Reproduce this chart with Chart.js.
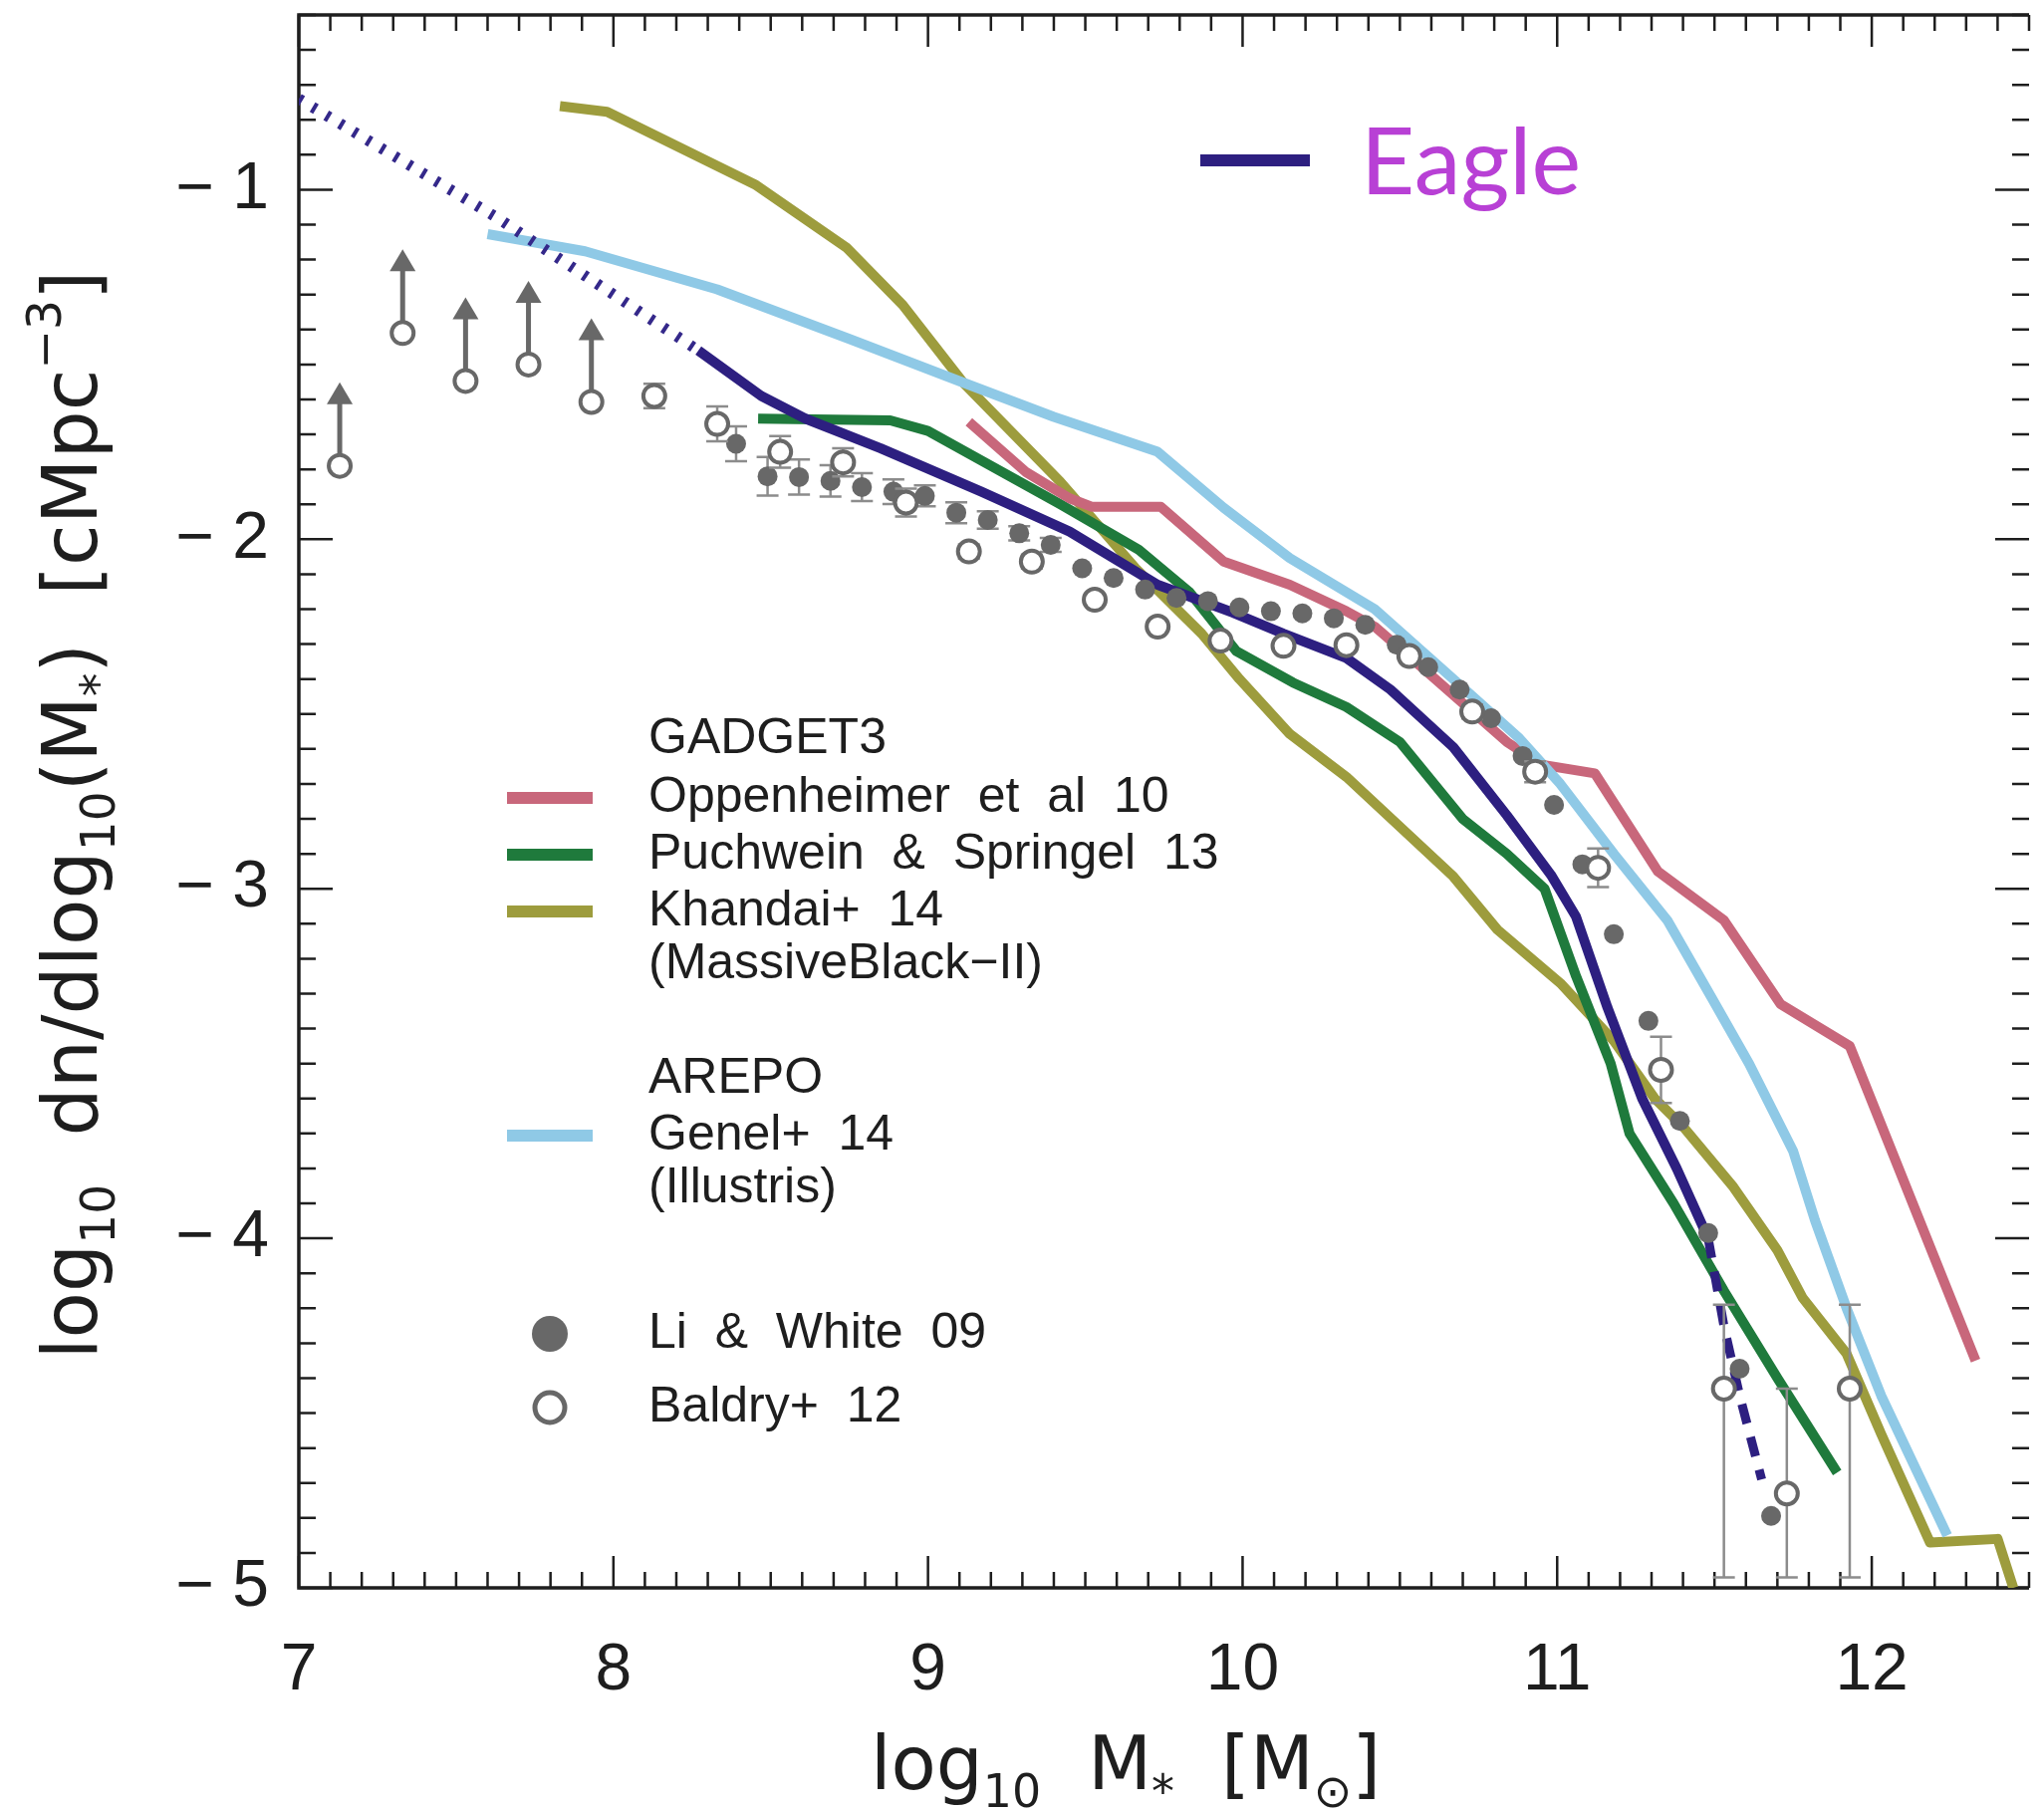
<!DOCTYPE html>
<html>
<head>
<meta charset="utf-8">
<title>Galaxy stellar mass function</title>
<script src="https://cdn.jsdelivr.net/npm/chart.js@4/dist/chart.umd.min.js"></script>
<style>
  html, body { margin: 0; padding: 0; background: #fff; }
  canvas { display: block; }
</style>
</head>
<body>
<canvas id="smf" width="2052" height="1819"></canvas>
<script>
// log10 M* on x, log10 dn/dlog10(M*) on y

// Eagle: dotted below the resolution limit, dashed where the box runs out of objects
const eagleLowMass = [7.0, 7.63, 8.27];
const eagleLowPhi  = [-0.74, -1.08, -1.46];
const eagleMass = [8.27, 8.47, 8.61, 8.85, 9.17, 9.45, 9.73, 9.97, 10.13, 10.33, 10.47, 10.67, 10.84, 10.98, 11.06, 11.16, 11.27, 11.38, 11.48];
const eaglePhi  = [-1.46, -1.59, -1.655, -1.74, -1.864, -1.978, -2.13, -2.21, -2.27, -2.34, -2.43, -2.595, -2.79, -2.96, -3.08, -3.34, -3.60, -3.80, -4.0];
const eagleHighMass = [11.48, 11.53, 11.58, 11.65];
const eagleHighPhi  = [-4.0, -4.25, -4.45, -4.69];

// GADGET3 runs
const oppMass = [9.13, 9.31, 9.45, 9.52, 9.74, 9.94, 10.15, 10.33, 10.42, 10.60, 10.84, 10.95, 11.12, 11.32, 11.53, 11.71, 11.93, 12.33];
const oppPhi  = [-1.664, -1.807, -1.883, -1.907, -1.907, -2.064, -2.13, -2.206, -2.25, -2.39, -2.58, -2.645, -2.67, -2.95, -3.09, -3.33, -3.45, -4.35];

const puchMass = [8.46, 8.88, 9.0, 9.18, 9.42, 9.67, 9.83, 9.98, 10.16, 10.33, 10.50, 10.70, 10.84, 10.96, 11.06, 11.17, 11.23, 11.37, 11.53, 11.70, 11.89];
const puchPhi  = [-1.655, -1.66, -1.69, -1.78, -1.90, -2.03, -2.15, -2.32, -2.41, -2.48, -2.58, -2.80, -2.90, -3.0, -3.25, -3.50, -3.70, -3.90, -4.15, -4.40, -4.67];

const khanMass = [7.83, 7.98, 8.45, 8.74, 8.92, 9.11, 9.42, 9.66, 9.87, 9.99, 10.15, 10.33, 10.67, 10.81, 11.01, 11.18, 11.31, 11.40, 11.56, 11.70, 11.78, 11.92, 12.03, 12.185, 12.40, 12.45];
const khanPhi  = [-0.761, -0.777, -0.985, -1.165, -1.33, -1.55, -1.835, -2.083, -2.27, -2.40, -2.557, -2.68, -2.965, -3.117, -3.27, -3.435, -3.60, -3.68, -3.853, -4.034, -4.17, -4.33, -4.56, -4.87, -4.86, -5.0];

// AREPO
const genelMass = [7.60, 7.91, 8.33, 8.75, 9.13, 9.40, 9.73, 9.94, 10.15, 10.42, 10.67, 10.88, 11.01, 11.18, 11.35, 11.49, 11.61, 11.75, 11.82, 11.92, 12.03, 12.14, 12.24];
const genelPhi  = [-1.127, -1.176, -1.285, -1.427, -1.558, -1.65, -1.75, -1.91, -2.054, -2.20, -2.40, -2.57, -2.70, -2.90, -3.09, -3.31, -3.50, -3.75, -3.95, -4.20, -4.45, -4.66, -4.85];

// Observations
const liWhiteMass = [8.39, 8.49, 8.59, 8.69, 8.79, 8.89, 8.99, 9.09, 9.19, 9.29, 9.39, 9.49, 9.59, 9.69, 9.79, 9.89, 9.99,
                     10.09, 10.19, 10.29, 10.39, 10.49, 10.59, 10.69, 10.79, 10.89, 10.99, 11.08, 11.18, 11.29, 11.39, 11.48, 11.58, 11.68];
const liWhitePhi  = [-1.727, -1.82, -1.822, -1.833, -1.851, -1.864, -1.876, -1.924, -1.945, -1.983, -2.016, -2.083, -2.111, -2.144, -2.168, -2.177, -2.195,
                     -2.206, -2.212, -2.226, -2.245, -2.302, -2.366, -2.43, -2.512, -2.62, -2.76, -2.93, -3.13, -3.378, -3.664, -3.985, -4.373, -4.794];
const liWhiteErr  = [0.05, 0.055, 0.05, 0.045, 0.04, 0.035, 0.03, 0.03, 0.025, 0.02, 0.02, 0, 0, 0, 0, 0, 0,
                     0, 0, 0, 0, 0, 0, 0, 0, 0, 0, 0, 0, 0, 0, 0, 0, 0];

const baldryMass = [7.13, 7.33, 7.53, 7.73, 7.93, 8.13, 8.33, 8.53, 8.73, 8.93, 9.13, 9.33, 9.53, 9.73, 9.93,
                    10.13, 10.33, 10.53, 10.73, 10.93, 11.13, 11.33, 11.53, 11.73, 11.93];
const baldryPhi  = [-1.79, -1.41, -1.547, -1.50, -1.607, -1.59, -1.67, -1.75, -1.78, -1.895, -2.035, -2.064, -2.173, -2.25, -2.29,
                    -2.305, -2.303, -2.334, -2.493, -2.665, -2.94, -3.518, -4.43, -4.73, -4.43];
const baldryErrUp   = [0, 0, 0, 0, 0, 0.035, 0.05, 0.045, 0.04, 0.04, 0.02, 0.02, 0, 0, 0,
                       0, 0, 0, 0.02, 0.03, 0.055, 0.095, 0.24, 0.30, 0.24];
const baldryErrDown = [0, 0, 0, 0, 0, 0.035, 0.05, 0.045, 0.04, 0.04, 0.02, 0.02, 0, 0, 0,
                       0, 0, 0, 0.02, 0.03, 0.055, 0.095, 0.54, 0.24, 0.54];
// lowest-mass bins are lower limits
const baldryLimit = [true, true, true, true, true, false, false, false, false, false, false, false, false, false, false,
                     false, false, false, false, false, false, false, false, false, false];

const xTicks = [7, 8, 9, 10, 11, 12];
const yTicks = [-5, -4, -3, -2, -1];

const C = {
  eagle: '#2d1f80',
  opp: '#c8677b',
  puch: '#1f7a3c',
  khan: '#9d9c3d',
  genel: '#8fc9e6',
  obs: '#686868',
  ink: '#1e1e1e'
};

const pts = (xs, ys) => xs.map((x, i) => ({ x, y: ys[i] }));

const lineSet = (label, xs, ys, color, extra) => Object.assign({
  label, data: pts(xs, ys), showLine: true, borderColor: color, backgroundColor: color,
  borderWidth: 10, pointRadius: 0, borderCapStyle: 'butt', borderJoinStyle: 'round', tension: 0
}, extra || {});

// error bars and lower-limit arrows, drawn just under their own markers
const errorBars = {
  id: 'errorBars',
  beforeDatasetDraw(chart, args) {
    const ds = chart.data.datasets[args.index];
    if (!ds.errUp) return;
    const { ctx, scales: { x, y } } = chart;
    ctx.save();
    ctx.strokeStyle = '#8c8c8c';
    ctx.lineWidth = 2.5;
    ds.data.forEach((p, i) => {
      const up = ds.errUp[i], dn = ds.errDown[i];
      if (!up && !dn) return;
      const px = x.getPixelForValue(p.x);
      const y1 = y.getPixelForValue(p.y + up);
      const y2 = y.getPixelForValue(p.y - dn);
      ctx.beginPath();
      ctx.moveTo(px, y1); ctx.lineTo(px, y2);
      ctx.moveTo(px - 11, y1); ctx.lineTo(px + 11, y1);
      ctx.moveTo(px - 11, y2); ctx.lineTo(px + 11, y2);
      ctx.stroke();
    });
    if (ds.limits) {
      ctx.strokeStyle = C.obs;
      ctx.fillStyle = C.obs;
      ctx.lineWidth = 5;
      ds.data.forEach((p, i) => {
        if (!ds.limits[i]) return;
        const px = x.getPixelForValue(p.x);
        const py = y.getPixelForValue(p.y);
        ctx.beginPath();
        ctx.moveTo(px, py - 12); ctx.lineTo(px, py - 64);
        ctx.stroke();
        ctx.beginPath();
        ctx.moveTo(px, py - 84); ctx.lineTo(px - 13, py - 62); ctx.lineTo(px + 13, py - 62);
        ctx.closePath();
        ctx.fill();
      });
    }
    ctx.restore();
  }
};

// box with inward major/minor ticks on all sides
const frame = {
  id: 'frame',
  beforeDatasetsDraw(chart) {
    const { ctx, chartArea: a, scales: { x, y } } = chart;
    ctx.save();
    ctx.strokeStyle = C.ink;
    ctx.lineWidth = 2.5;
    for (let i = 70; i <= 125; i++) {
      const px = x.getPixelForValue(i / 10);
      const len = i % 10 === 0 ? 32 : 16;
      ctx.beginPath();
      ctx.moveTo(px, a.bottom); ctx.lineTo(px, a.bottom - len);
      ctx.moveTo(px, a.top); ctx.lineTo(px, a.top + len);
      ctx.stroke();
    }
    for (let i = -50; i <= -5; i++) {
      const py = y.getPixelForValue(i / 10);
      const len = i % 10 === 0 ? 34 : 17;
      ctx.beginPath();
      ctx.moveTo(a.left, py); ctx.lineTo(a.left + len, py);
      ctx.moveTo(a.right, py); ctx.lineTo(a.right - len, py);
      ctx.stroke();
    }
    ctx.lineWidth = 3.5;
    ctx.beginPath();
    ctx.moveTo(a.right, a.top); ctx.lineTo(a.left, a.top);
    ctx.lineTo(a.left, a.bottom); ctx.lineTo(a.right, a.bottom);
    ctx.stroke();
    ctx.restore();
  }
};

function drawRich(ctx, parts, size, x, y, family) {
  const fontFor = m => (m ? size * 0.62 : size) + 'px ' + family;
  const widths = parts.map(([t, m]) => { ctx.font = fontFor(m); return ctx.measureText(t).width; });
  let cx = x - widths.reduce((s, w) => s + w, 0) / 2;
  ctx.textAlign = 'left';
  ctx.textBaseline = 'alphabetic';
  parts.forEach(([t, m], i) => {
    ctx.font = fontFor(m);
    const dy = m === 'sub' ? size * 0.24 : m === 'sup' ? -size * 0.48 : 0;
    ctx.fillText(t, cx, y + dy);
    cx += widths[i];
  });
}

const axisTitles = {
  id: 'axisTitles',
  afterDraw(chart) {
    const { ctx } = chart;
    const fam = '"DejaVu Sans", sans-serif';
    ctx.save();
    ctx.fillStyle = C.ink;
    drawRich(ctx, [['log'], ['10', 'sub'], ['  M'], ['*', 'sub'], ['  [M'], ['\u2299', 'sub'], [']']], 74, 1130, 1796, fam);
    ctx.translate(97, 818);
    ctx.rotate(-Math.PI / 2);
    drawRich(ctx, [['log'], ['10', 'sub'], ['  dn/dlog'], ['10', 'sub'], ['(M'], ['*', 'sub'], [')  [cMpc'], ['\u22123', 'sup'], [']']], 76, 0, 0, fam);
    ctx.restore();
  }
};

// in-panel key for the simulations and data sets
const key = {
  id: 'key',
  afterDraw(chart) {
    const { ctx } = chart;
    const rows = [
      { y: 742, text: 'GADGET3' },
      { y: 801, text: 'Oppenheimer  et  al  10', line: C.opp },
      { y: 858, text: 'Puchwein  &  Springel  13', line: C.puch },
      { y: 915, text: 'Khandai+  14', line: C.khan },
      { y: 968, text: '(MassiveBlack\u2212II)' },
      { y: 1083, text: 'AREPO' },
      { y: 1140, text: 'Genel+  14', line: C.genel },
      { y: 1193, text: '(Illustris)' },
      { y: 1339, text: 'Li  &  White  09', dot: 'fill' },
      { y: 1413, text: 'Baldry+  12', dot: 'ring' }
    ];
    ctx.save();
    ctx.font = '50px "Liberation Sans", Arial, sans-serif';
    ctx.textBaseline = 'middle';
    ctx.textAlign = 'left';
    rows.forEach(r => {
      ctx.fillStyle = C.ink;
      ctx.fillText(r.text, 651, r.y);
      if (r.line) {
        ctx.fillStyle = r.line;
        ctx.fillRect(509, r.y - 6, 86, 12);
      }
      if (r.dot) {
        ctx.beginPath();
        ctx.arc(552, r.y, r.dot === 'fill' ? 18 : 15, 0, Math.PI * 2);
        if (r.dot === 'fill') { ctx.fillStyle = C.obs; ctx.fill(); }
        else { ctx.strokeStyle = C.obs; ctx.lineWidth = 5; ctx.stroke(); }
      }
    });
    // Eagle entry
    ctx.fillStyle = C.eagle;
    ctx.fillRect(1205, 155, 110, 12);
    ctx.fillStyle = '#b840d5';
    ctx.font = '94px Lato, "Noto Sans", sans-serif';
    ctx.textBaseline = 'alphabetic';
    ctx.fillText('Eagle', 1366, 195);
    ctx.restore();
  }
};

const tickFont = { family: '"Liberation Sans", Arial, sans-serif', size: 66 };

new Chart(document.getElementById('smf'), {
  type: 'scatter',
  data: {
    datasets: [
      {
        label: 'Baldry+ 12', data: pts(baldryMass, baldryPhi),
        pointRadius: 11, pointBorderWidth: 4, pointBackgroundColor: '#ffffff', pointBorderColor: C.obs,
        errUp: baldryErrUp, errDown: baldryErrDown, limits: baldryLimit
      },
      {
        label: 'Li & White 09', data: pts(liWhiteMass, liWhitePhi),
        pointRadius: 10, pointBorderWidth: 0, pointBackgroundColor: C.obs, pointBorderColor: C.obs,
        errUp: liWhiteErr, errDown: liWhiteErr
      },
      lineSet('Eagle (poorly sampled)', eagleHighMass, eagleHighPhi, C.eagle, { borderWidth: 9, borderDash: [20, 14] }),
      lineSet('Eagle', eagleMass, eaglePhi, C.eagle),
      // thick line with very short dashes gives the row of small cross-strokes
      lineSet('Eagle (unresolved)', eagleLowMass, eagleLowPhi, '#34288a', { borderWidth: 11, borderDash: [4, 12] }),
      lineSet('Genel+ 14', genelMass, genelPhi, C.genel),
      lineSet('Oppenheimer et al 10', oppMass, oppPhi, C.opp),
      lineSet('Puchwein & Springel 13', puchMass, puchPhi, C.puch),
      lineSet('Khandai+ 14', khanMass, khanPhi, C.khan)
    ]
  },
  options: {
    responsive: false,
    animation: false,
    layout: { padding: { top: 12, right: 0, bottom: 0, left: 0 } },
    plugins: { legend: { display: false }, tooltip: { enabled: false } },
    scales: {
      x: {
        type: 'linear', min: 7, max: 12.5,
        grid: { display: false }, border: { display: false },
        afterBuildTicks: s => { s.ticks = xTicks.map(v => ({ value: v })); },
        ticks: { font: tickFont, color: C.ink, padding: 36, maxRotation: 0 },
        afterFit: s => { s.height = 225; s.paddingLeft = 0; s.paddingRight = 0; }
      },
      y: {
        type: 'linear', min: -5, max: -0.5,
        grid: { display: false }, border: { display: false },
        afterBuildTicks: s => { s.ticks = yTicks.map(v => ({ value: v })); },
        ticks: { font: tickFont, color: C.ink, padding: 22, callback: v => '\u2212 ' + Math.abs(v) },
        afterFit: s => { s.width = 300; s.paddingTop = 0; s.paddingBottom = 0; }
      }
    }
  },
  plugins: [frame, errorBars, axisTitles, key]
});
</script>
</body>
</html>
